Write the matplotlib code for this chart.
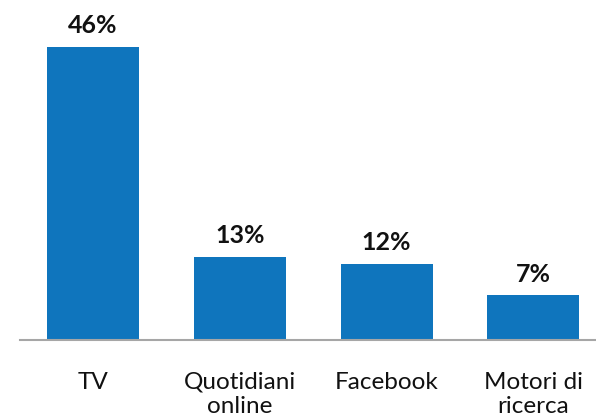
import matplotlib
matplotlib.use('Agg')
import matplotlib.pyplot as plt

categories = ['TV', 'Quotidiani\nonline', 'Facebook', 'Motori di\nricerca']
values = [46, 13, 12, 7]
labels = ['46%', '13%', '12%', '7%']

plt.rcParams['font.family'] = ['Lato', 'DejaVu Sans']

fig = plt.figure(figsize=(5.96, 4.19), dpi=100)
# axes start at the grey baseline's left end, extend to the right edge
ax = fig.add_axes([19.6/596, 79/419, 576.4/596, 293/419*50/46])

x = range(len(values))
bars = ax.bar(x, values, width=0.627, color='#0F75BD')
ax.set_xlim(-0.5, -0.5 + 576.4/146.8)
ax.set_ylim(0, 50)

for b, lab in zip(bars, labels):
    ax.annotate(lab, (b.get_x() + b.get_width()/2, b.get_height()),
                xytext=(0, 7), textcoords='offset points',
                ha='center', va='bottom', fontsize=18, fontweight='bold',
                color='#111111')

ax.set_xticks(list(x))
ax.set_xticklabels(categories, fontsize=17.5, color='#111111', linespacing=1.2, va='top')
ax.tick_params(axis='x', length=0, pad=23)
ax.set_yticks([])
for s in ['top', 'right', 'left']:
    ax.spines[s].set_visible(False)
ax.spines['bottom'].set_color('#A6A6A6')
ax.spines['bottom'].set_linewidth(1.5)

fig.savefig('out.png', dpi=100)
